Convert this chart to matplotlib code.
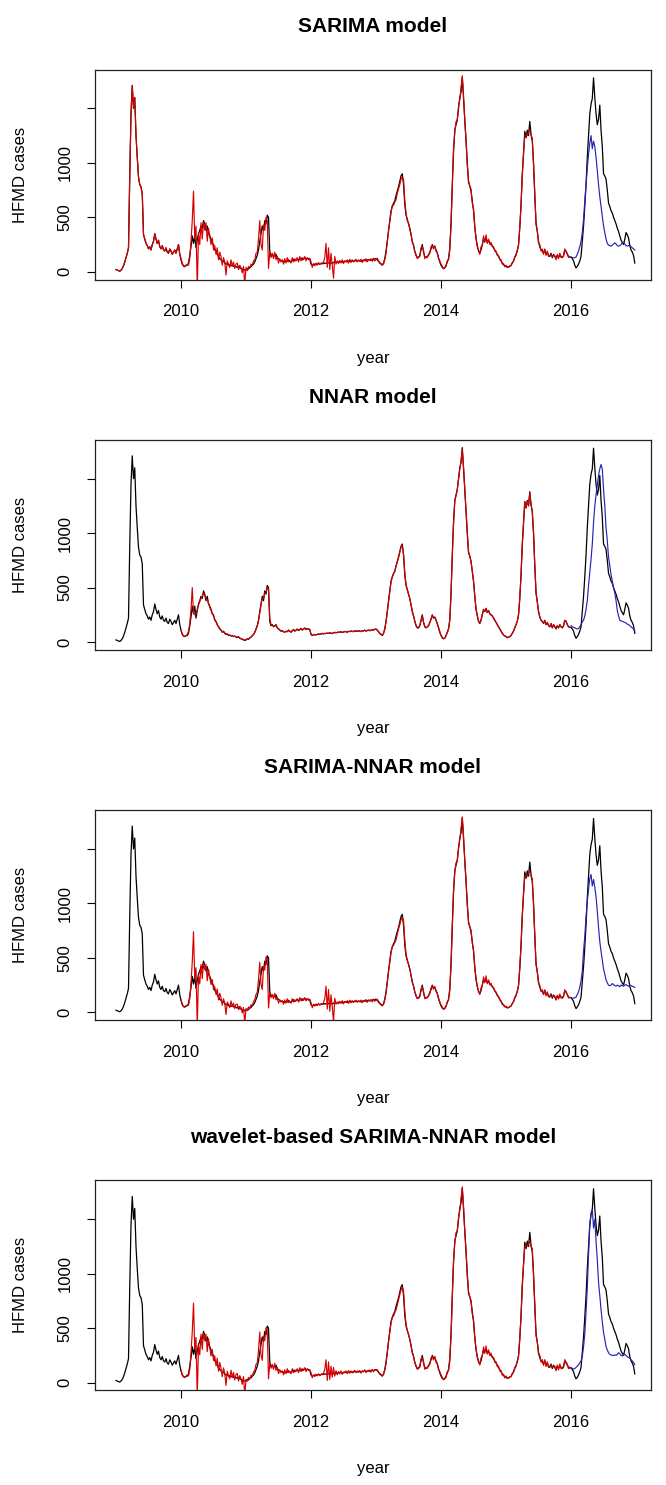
import numpy as np
import matplotlib
matplotlib.use('Agg')
import matplotlib.pyplot as plt

# ---------------- data (weekly, frequency 52) ----------------
obs_2009 = [20, 15, 10, 5, 15, 30, 55, 90, 130, 170, 220, 880, 1450,
            1710, 1500, 1600, 1250, 1050, 870, 800, 780, 720, 340, 300, 260, 240,
            210, 230, 200, 250, 280, 350, 300, 260, 290, 230, 210, 240, 200,
            190, 220, 180, 170, 210, 190, 160, 180, 200, 170, 210, 250, 160]
obs_2010 = [110, 70, 55, 50, 60, 60, 80, 150, 230, 330, 260, 330, 220,
            290, 350, 380, 420, 400, 470, 440, 380, 420, 350, 330, 300, 260,
            250, 200, 190, 160, 140, 120, 110, 90, 100, 80, 70, 75, 60,
            65, 55, 60, 50, 55, 45, 40, 50, 35, 30, 25, 20, 15]
obs_2011 = [20, 30, 25, 40, 45, 60, 70, 90, 120, 150, 200, 280, 350,
            420, 380, 470, 440, 520, 500, 190, 150, 160, 140, 150, 160, 130,
            120, 110, 100, 105, 95, 90, 100, 95, 110, 100, 90, 105, 115,
            100, 110, 120, 105, 115, 125, 110, 120, 130, 115, 125, 120, 115]
obs_2012 = [70, 60, 65, 70, 65, 70, 75, 70, 75, 80, 75, 80, 78,
            82, 80, 85, 80, 78, 85, 90, 85, 88, 92, 90, 95, 88,
            92, 98, 95, 90, 100, 96, 102, 98, 95, 105, 100, 98, 104,
            100, 96, 105, 102, 110, 100, 106, 112, 104, 108, 115, 110, 118]
obs_2013 = [120, 110, 95, 80, 70, 60, 80, 120, 190, 280, 380, 470, 560,
            600, 630, 650, 700, 740, 780, 830, 880, 900, 800, 620, 520, 480,
            440, 400, 340, 280, 240, 190, 150, 130, 130, 150, 200, 250, 180,
            140, 130, 140, 150, 180, 210, 250, 220, 230, 200, 170, 130, 90]
obs_2014 = [60, 40, 30, 35, 60, 90, 120, 200, 450, 800, 1100, 1300, 1350,
            1400, 1500, 1600, 1650, 1785, 1600, 1400, 1200, 1000, 820, 790, 740, 650,
            560, 420, 300, 240, 190, 170, 200, 250, 300, 280, 310, 270, 290,
            260, 250, 240, 220, 200, 180, 160, 140, 120, 100, 80, 65, 55]
obs_2015 = [50, 40, 45, 50, 60, 80, 100, 130, 160, 190, 250, 400, 620,
            900, 1100, 1290, 1230, 1300, 1250, 1380, 1260, 1200, 1000, 700, 450, 370,
            280, 230, 200, 190, 170, 200, 160, 180, 150, 140, 170, 130, 160,
            140, 120, 150, 130, 160, 140, 130, 150, 200, 190, 160, 140, 135]
obs_2016 = [135, 120, 100, 60, 35, 50, 70, 100, 140, 280, 420, 600, 800,
            1050, 1250, 1450, 1540, 1590, 1780, 1600, 1450, 1350, 1400, 1530, 1300, 1150,
            900, 880, 850, 750, 630, 600, 560, 540, 500, 470, 440, 400, 370,
            330, 290, 270, 250, 300, 360, 340, 310, 240, 200, 180, 150, 80]

# SARIMA fitted values (2009-2015)
sar_2009 = [21, 16, 10, 6, 14, 29, 54, 88, 128, 168, 218, 875, 1445,
            1712, 1505, 1598, 1255, 1052, 872, 802, 778, 718, 345, 302, 262, 242,
            212, 228, 202, 248, 278, 348, 302, 262, 288, 232, 212, 238, 202,
            192, 218, 182, 172, 208, 192, 162, 178, 198, 172, 208, 248, 162]
sar_2010 = [120, 80, 50, 45, 55, 70, 60, 120, 280, 470, 740, 300, 420,
            -150, 350, 250, 450, 300, 460, 380, 450, 280, 400, 330, 250, 310,
            200, 240, 160, 220, 110, 180, 140, 60, 130, 90, -30, 100, 70,
            40, 110, 50, 90, 30, 70, 80, 20, 60, 40, -10, 50, -120]
sar_2011 = [40, 10, 50, 30, 70, 60, 100, 110, 170, 180, 300, 470, 250,
            200, 430, 380, 500, 470, 30, 180, 130, 170, 120, 180, 110, 140,
            80, 120, 90, 110, 70, 120, 80, 130, 90, 100, 80, 130, 90,
            120, 100, 130, 90, 140, 100, 130, 110, 140, 100, 130, 110, 125]
sar_2012 = [90, 40, 75, 55, 80, 60, 85, 65, 80, 70, 90, 130, 260,
            40, 220, 20, 170, 60, -60, 140, 70, 100, 75, 105, 80, 110,
            75, 100, 90, 110, 80, 115, 85, 110, 90, 100, 115, 90, 110,
            95, 115, 85, 110, 100, 120, 90, 115, 105, 120, 95, 125, 100]
sar_2013 = [110, 125, 100, 85, 75, 65, 70, 110, 170, 270, 370, 460, 540,
            610, 610, 640, 660, 720, 760, 800, 850, 870, 850, 660, 540, 470,
            450, 390, 350, 270, 250, 180, 160, 120, 140, 140, 220, 230, 200,
            120, 140, 130, 160, 170, 230, 240, 210, 240, 190, 180, 120, 100]
sar_2014 = [70, 50, 25, 40, 50, 100, 110, 230, 420, 780, 1130, 1280, 1380,
            1380, 1520, 1580, 1690, 1800, 1620, 1380, 1220, 980, 840, 780, 760, 630,
            580, 400, 320, 230, 200, 160, 230, 240, 330, 270, 340, 260, 300,
            250, 270, 230, 230, 190, 190, 150, 150, 110, 110, 70, 75, 45]
sar_2015 = [60, 45, 40, 55, 55, 85, 95, 140, 150, 200, 240, 420, 600,
            880, 1080, 1250, 1260, 1250, 1280, 1300, 1250, 1230, 980, 720, 430, 380,
            260, 250, 190, 210, 160, 210, 150, 190, 140, 150, 160, 140, 150,
            150, 110, 160, 120, 170, 130, 140, 140, 210, 180, 170, 130, 140]

# NNAR fitted values (2010-2015)
nn_2010 = [110, 75, 58, 52, 58, 70, 100, 170, 300, 500, 270, 250, 260,
           300, 340, 370, 400, 420, 450, 430, 400, 390, 360, 320, 290, 260,
           240, 210, 185, 160, 140, 125, 110, 95, 95, 85, 75, 72, 65,
           62, 58, 58, 52, 52, 48, 44, 46, 38, 32, 28, 24, 20]
nn_2011 = [22, 28, 30, 38, 45, 58, 70, 88, 115, 150, 195, 270, 340,
           400, 400, 450, 460, 500, 480, 220, 160, 155, 145, 148, 150, 135,
           122, 112, 103, 102, 96, 92, 98, 96, 105, 100, 93, 102, 110,
           102, 108, 115, 107, 113, 120, 112, 118, 125, 117, 122, 120, 116]
nn_2012 = [75, 62, 66, 69, 67, 71, 74, 72, 75, 78, 76, 79, 79,
           81, 80, 83, 81, 80, 84, 88, 86, 88, 91, 90, 93, 89,
           92, 96, 95, 91, 98, 96, 100, 98, 96, 103, 100, 99, 103,
           100, 97, 104, 102, 108, 101, 105, 110, 105, 108, 113, 110, 116]
nn_2013 = [118, 110, 96, 82, 72, 64, 80, 118, 185, 275, 370, 460, 550,
           595, 625, 648, 695, 735, 775, 825, 870, 890, 810, 640, 530, 485,
           442, 402, 345, 285, 242, 195, 155, 135, 132, 150, 195, 240, 185,
           145, 132, 140, 152, 178, 208, 245, 222, 228, 202, 172, 135, 95]
nn_2014 = [62, 42, 32, 36, 58, 88, 122, 205, 440, 790, 1090, 1290, 1345,
           1400, 1495, 1590, 1655, 1770, 1610, 1405, 1205, 1005, 830, 790, 738, 652,
           558, 425, 305, 245, 195, 175, 205, 255, 295, 280, 305, 272, 288,
           262, 250, 240, 222, 202, 182, 162, 142, 122, 102, 82, 66, 56]
nn_2015 = [52, 42, 44, 51, 62, 80, 102, 130, 160, 190, 255, 405, 615,
           890, 1095, 1280, 1240, 1295, 1255, 1370, 1265, 1195, 1005, 705, 455, 372,
           282, 232, 202, 190, 172, 198, 162, 178, 152, 142, 168, 132, 158,
           142, 122, 148, 132, 158, 142, 132, 150, 195, 188, 162, 142, 136]

# SARIMA-NNAR fitted values (2010-2015)
hy_2010 = [115, 78, 52, 47, 56, 68, 65, 125, 270, 460, 740, 310, 410,
           -130, 340, 260, 440, 310, 450, 390, 440, 290, 395, 320, 255, 300,
           210, 235, 165, 215, 115, 175, 135, 65, 125, 85, -20, 95, 75,
           45, 105, 55, 85, 35, 75, 75, 25, 55, 45, -5, 45, -100]
hy_2011 = [35, 15, 50, 35, 70, 65, 100, 115, 165, 185, 300, 460, 260,
           210, 420, 390, 510, 480, 40, 180, 135, 165, 125, 175, 115, 135,
           85, 115, 95, 105, 75, 115, 85, 125, 90, 100, 85, 125, 95,
           115, 105, 125, 95, 135, 105, 125, 110, 135, 105, 125, 110, 120]
hy_2012 = [88, 42, 74, 57, 78, 62, 83, 66, 79, 71, 88, 125, 240,
           30, 210, 10, 160, 55, -90, 130, 75, 95, 78, 100, 82, 108,
           77, 98, 92, 108, 82, 112, 87, 108, 92, 100, 112, 92, 108,
           97, 113, 88, 108, 102, 118, 92, 113, 107, 118, 97, 122, 102]
hy_2013 = [112, 122, 100, 86, 74, 66, 72, 112, 172, 272, 372, 462, 545,
           605, 615, 640, 665, 715, 765, 805, 850, 875, 845, 665, 540, 475,
           445, 395, 345, 275, 245, 185, 160, 125, 138, 145, 215, 235, 195,
           125, 138, 133, 158, 172, 225, 242, 212, 238, 192, 178, 122, 98]
hy_2014 = [68, 50, 28, 40, 52, 98, 112, 228, 425, 785, 1125, 1285, 1375,
           1385, 1515, 1585, 1685, 1795, 1625, 1385, 1215, 985, 835, 785, 755, 635,
           575, 405, 315, 235, 198, 165, 225, 245, 325, 272, 335, 262, 298,
           252, 268, 232, 228, 192, 188, 152, 148, 112, 108, 72, 73, 48]
hy_2015 = [58, 46, 42, 54, 57, 84, 97, 138, 152, 198, 242, 418, 605,
           875, 1085, 1245, 1262, 1248, 1282, 1295, 1252, 1228, 985, 715, 435, 378,
           262, 248, 192, 208, 162, 208, 152, 188, 142, 152, 158, 142, 152,
           148, 112, 158, 122, 168, 132, 142, 142, 208, 182, 168, 132, 138]

# wavelet-based SARIMA-NNAR fitted values (2010-2015)
wv_2010 = [112, 76, 54, 46, 57, 72, 62, 118, 275, 465, 730, 305, 415,
           -140, 345, 255, 445, 305, 455, 385, 445, 285, 405, 325, 245, 305,
           205, 245, 155, 225, 105, 185, 135, 55, 135, 85, -25, 105, 65,
           35, 115, 45, 95, 25, 75, 85, 15, 65, 35, -15, 55, -110]
wv_2011 = [30, 12, 48, 32, 68, 62, 98, 112, 168, 182, 295, 465, 255,
           205, 425, 385, 505, 475, 35, 178, 132, 168, 122, 178, 112, 138,
           82, 118, 92, 108, 72, 118, 82, 128, 92, 102, 82, 128, 92,
           118, 102, 128, 92, 138, 102, 128, 112, 138, 102, 128, 112, 118]
wv_2012 = [92, 45, 72, 56, 78, 62, 82, 64, 78, 72, 88, 120, 210,
           20, 190, 30, 150, 50, 140, 60, 110, 72, 102, 80, 108, 76,
           98, 90, 108, 82, 112, 86, 108, 90, 102, 112, 92, 108, 96,
           112, 88, 108, 100, 118, 92, 112, 104, 118, 96, 122, 100, 118]
wv_2013 = [114, 120, 98, 84, 76, 64, 74, 114, 175, 268, 375, 465, 548,
           602, 612, 642, 668, 712, 762, 808, 852, 878, 842, 662, 538, 478,
           448, 392, 348, 272, 248, 182, 158, 122, 142, 142, 218, 232, 198,
           122, 142, 132, 162, 168, 228, 238, 208, 242, 188, 182, 118, 102]
wv_2014 = [72, 48, 27, 42, 48, 102, 108, 232, 418, 782, 1128, 1282, 1378,
           1382, 1518, 1582, 1688, 1798, 1622, 1382, 1218, 982, 838, 782, 758, 632,
           578, 402, 318, 232, 202, 162, 228, 242, 328, 268, 338, 262, 302,
           248, 272, 228, 232, 188, 192, 148, 152, 108, 112, 68, 77, 43]
wv_2015 = [62, 44, 41, 56, 54, 86, 94, 142, 148, 202, 238, 422, 598,
           882, 1078, 1252, 1258, 1252, 1278, 1302, 1248, 1232, 978, 722, 428, 382,
           258, 252, 188, 212, 158, 212, 148, 192, 138, 152, 158, 142, 148,
           152, 108, 162, 118, 172, 128, 142, 138, 212, 178, 172, 128, 142]

# 2016 forecasts
sarima_fc = [135, 130, 128, 130, 135, 160, 190, 230, 280, 360, 480, 650, 800,
             950, 1080, 1180, 1250, 1130, 1200, 1150, 1050, 930, 800, 690, 600, 510,
             420, 360, 300, 260, 245, 240, 235, 245, 255, 265, 255, 240, 235,
             240, 250, 265, 270, 255, 240, 235, 240, 245, 230, 220, 210, 200]
nnar_fc = [150, 140, 135, 130, 125, 120, 125, 140, 160, 185, 200, 240, 300,
           380, 520, 640, 760, 900, 1100, 1250, 1350, 1440, 1530, 1590, 1630, 1590,
           1400, 1250, 1050, 930, 780, 700, 620, 560, 500, 450, 380, 290, 240,
           200, 195, 190, 185, 180, 175, 165, 160, 150, 140, 130, 120, 105]
hybrid_fc = [135, 130, 130, 135, 140, 165, 190, 230, 290, 380, 560, 700, 880,
             1020, 1130, 1230, 1265, 1160, 1220, 1150, 1060, 930, 780, 650, 560, 480,
             400, 350, 300, 270, 250, 245, 250, 265, 255, 245, 240, 250, 245,
             235, 250, 245, 240, 250, 255, 245, 240, 250, 245, 240, 235, 230]
wavelet_fc = [140, 130, 125, 130, 140, 150, 165, 180, 200, 240, 330, 450, 650,
              870, 1180, 1450, 1560, 1590, 1420, 1500, 1300, 1130, 920, 800, 670, 560,
              460, 400, 330, 300, 275, 260, 255, 250, 250, 255, 250, 260, 275,
              265, 250, 245, 255, 260, 250, 240, 230, 225, 210, 200, 185, 165]

titles = ["SARIMA model", "NNAR model", "SARIMA-NNAR model",
          "wavelet-based SARIMA-NNAR model"]
x_ticks = [2010, 2012, 2014, 2016]
y_ticks = [0, 500, 1000, 1500]
y_tick_labels = ["0", "500", "1000", ""]

# ---------------- assemble ----------------
observed = np.array(obs_2009 + obs_2010 + obs_2011 + obs_2012 + obs_2013 +
                    obs_2014 + obs_2015 + obs_2016, dtype=float)
t_obs = 2009 + np.arange(len(observed)) / 52.0

sarima_fit = np.array(sar_2009 + sar_2010 + sar_2011 + sar_2012 + sar_2013 + sar_2014 + sar_2015, float)
nnar_fit = np.array(nn_2010 + nn_2011 + nn_2012 + nn_2013 + nn_2014 + nn_2015, float)
hybrid_fit = np.array(hy_2010 + hy_2011 + hy_2012 + hy_2013 + hy_2014 + hy_2015, float)
wavelet_fit = np.array(wv_2010 + wv_2011 + wv_2012 + wv_2013 + wv_2014 + wv_2015, float)

fits = [(2009, sarima_fit), (2010, nnar_fit), (2010, hybrid_fit), (2010, wavelet_fit)]
fcs = [sarima_fc, nnar_fc, hybrid_fc, wavelet_fc]

plt.rcParams['font.family'] = ['Liberation Sans', 'DejaVu Sans']

W, H = 666, 1485
fig = plt.figure(figsize=(W / 100, H / 100), dpi=100)

def fx(px):
    return px / W

def fy(py):
    return 1 - py / H

RED = '#D80000'
BLUE = '#2525B5'
STEP = 370.3
LEFT, RIGHT, TOP, BOT = 95, 651, 69.5, 279.5

for k in range(4):
    dy = STEP * k
    ax = fig.add_axes([fx(LEFT), fy(BOT + dy), (RIGHT - LEFT) / W, (BOT - TOP) / H])
    ax.plot(t_obs, observed, color='black', lw=0.9)
    start, fit = fits[k]
    ax.plot(start + np.arange(len(fit)) / 52.0, fit, color=RED, lw=0.85)
    fc = np.array(fcs[k], float)
    ax.plot(2016 + np.arange(len(fc)) / 52.0, fc, color=BLUE, lw=0.85)

    ax.set_xlim(2008.677, 2017.23)
    ax.set_ylim(-71, 1857)
    ax.set_xticks(x_ticks)
    ax.set_xticklabels([str(v) for v in x_ticks])
    ax.set_yticks(y_ticks)
    ax.set_yticklabels(y_tick_labels, rotation=90, va='center')
    ax.tick_params(direction='out', length=6, width=0.8, labelsize=12, colors='black')
    ax.tick_params(axis='x', pad=12)
    ax.tick_params(axis='y', pad=10)
    for s in ax.spines.values():
        s.set_linewidth(0.9)
        s.set_color('#222222')

    fig.text(fx((LEFT + RIGHT) / 2), fy(27 + dy), titles[k], ha='center', va='center',
             fontsize=15, fontweight='bold')
    fig.text(fx((LEFT + RIGHT) / 2), fy(358 + dy), "year", ha='center', va='center', fontsize=12)
    fig.text(fx(21), fy((TOP + BOT) / 2 + dy), "HFMD cases", ha='center', va='center',
             rotation=90, fontsize=12)

fig.savefig('out.png', dpi=100)
